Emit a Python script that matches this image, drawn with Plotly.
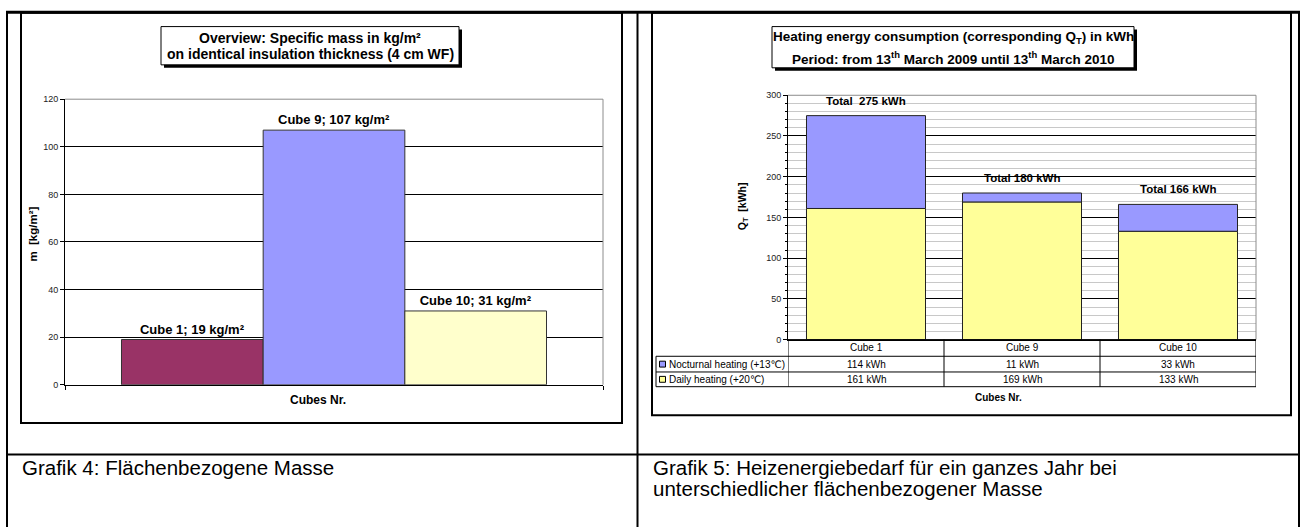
import plotly.graph_objects as go

# ---------------- data ----------------
mass_cubes = ["Cube 1", "Cube 9", "Cube 10"]
mass_values = [19, 107, 31]
mass_colors = ["#993366", "#9999FF", "#FFFFCC"]

heat_cubes = ["Cube 1", "Cube 9", "Cube 10"]
daily_heating = [161, 169, 133]
nocturnal_heating = [114, 11, 33]
daily_name = "Daily heating (+20\u2103)"
nocturnal_name = "Nocturnal heating (+13\u2103)"
daily_color = "#FFFF99"
nocturnal_color = "#9999FF"

caption_left = "Grafik 4: Flächenbezogene Masse"
caption_right = ["Grafik 5: Heizenergiebedarf für ein ganzes Jahr bei",
                 "unterschiedlicher flächenbezogener Masse"]

# ---------------- layout helpers ----------------
W, H = 1310, 532
FONT = "Liberation Sans, Arial, DejaVu Sans, sans-serif"


def px(x):
    return x / W


def py(y):
    return 1 - y / H


fig = go.Figure()

# left chart: three bars side by side in one category
gap_left = 0.21
bw = (1 - gap_left) / len(mass_values)
for i, (name, val, col) in enumerate(zip(mass_cubes, mass_values, mass_colors)):
    fig.add_trace(go.Bar(
        x=[0], y=[val], width=[bw], offset=[-1.5 * bw + i * bw],
        marker=dict(color=col, line=dict(color="#333333", width=1)),
        text=[f"<b>{name}; {val} kg/m²</b>"], textposition="outside",
        textfont=dict(family=FONT, size=13, color="#000"),
        constraintext="none", cliponaxis=False,
        xaxis="x", yaxis="y", showlegend=False, hoverinfo="skip"))

# right chart: stacked bars (base = daily heating)
fig.add_trace(go.Bar(
    x=heat_cubes, y=daily_heating, name=daily_name,
    marker=dict(color=daily_color, line=dict(color="#222", width=1)),
    xaxis="x2", yaxis="y2", showlegend=False, hoverinfo="skip"))
fig.add_trace(go.Bar(
    x=heat_cubes, y=nocturnal_heating, base=daily_heating, name=nocturnal_name,
    marker=dict(color=nocturnal_color, line=dict(color="#222", width=1)),
    xaxis="x2", yaxis="y2", showlegend=False, hoverinfo="skip"))

tickfont = dict(family=FONT, size=9, color="#222")

fig.update_layout(
    width=W, height=H, margin=dict(l=0, r=0, t=0, b=0),
    paper_bgcolor="white", plot_bgcolor="white",
    barmode="overlay", bargap=0.237,
    xaxis=dict(domain=[px(65), px(603)], range=[-0.5, 0.5], anchor="y",
               showline=True, linecolor="#000", linewidth=1,
               tickvals=[-0.5, 0.5], ticks="outside", ticklen=4, tickcolor="#000",
               showticklabels=False, showgrid=False, zeroline=False, fixedrange=True),
    yaxis=dict(domain=[py(387), py(96)], range=[0, 120], anchor="x",
               tick0=0, dtick=20, ticks="outside", ticklen=4, tickcolor="#000",
               showline=True, linecolor="#000", linewidth=1,
               showgrid=True, gridcolor="#000", gridwidth=1, zeroline=False,
               tickfont=tickfont, fixedrange=True),
    xaxis2=dict(domain=[px(788), px(1256)], range=[-0.5, 2.5], anchor="y2",
                type="category", showline=True, linecolor="#000", linewidth=1,
                showticklabels=False, ticks="", showgrid=False, zeroline=False,
                fixedrange=True),
    yaxis2=dict(domain=[py(341), py(92)], range=[0, 300], anchor="x2",
                tick0=0, dtick=50, ticks="outside", ticklen=4, tickcolor="#000",
                showline=True, linecolor="#000", linewidth=1,
                showgrid=True, gridcolor="#000", gridwidth=1, zeroline=False,
                minor=dict(dtick=10, ticks="outside", ticklen=2, tickcolor="#000",
                           showgrid=True, gridcolor="#c8c8c8", gridwidth=1),
                tickfont=tickfont, fixedrange=True),
)

shapes = []


def line(x0, y0, x1, y1, color="#000", width=1, **kw):
    d = dict(type="line", xref=kw.get("xref", "paper"), yref=kw.get("yref", "paper"),
             x0=x0, y0=y0, x1=x1, y1=y1, line=dict(color=color, width=width),
             layer=kw.get("layer", "above"))
    shapes.append(d)


def rect(x0, y0, x1, y1, lc="#000", lw=1, fill=None):
    shapes.append(dict(type="rect", xref="paper", yref="paper",
                       x0=px(x0), x1=px(x1), y0=py(y0), y1=py(y1),
                       line=dict(color=lc, width=lw),
                       fillcolor=fill if fill else "rgba(0,0,0,0)", layer="above"))


# outer table
line(px(6), py(7.5), px(1300), py(7.5), width=3)
line(px(7), py(6), px(7), py(532), width=2)
line(px(637.5), py(6), px(637.5), py(532), width=2)
line(px(1299), py(6), px(1299), py(532), width=2)
line(px(7), py(458), px(1299), py(458), width=2)

# chart frames
rect(21, 8, 622, 426, lw=2)
rect(652, 8, 1291, 418, lw=2)

# plot area borders (gray)
for ax in ("", "2"):
    shapes.append(dict(type="line", xref=f"x{ax} domain", yref=f"y{ax} domain",
                       x0=0, x1=1, y0=1, y1=1, line=dict(color="#8c8c8c", width=1)))
    shapes.append(dict(type="line", xref=f"x{ax} domain", yref=f"y{ax} domain",
                       x0=1, x1=1, y0=0, y1=1, line=dict(color="#8c8c8c", width=1)))

# title boxes with shadow
rect(164, 25, 462, 64, lc="#000", lw=0, fill="#000")
rect(161, 22, 459, 61, lc="#000", lw=1, fill="#fff")
rect(775, 25, 1137, 67, lc="#000", lw=0, fill="#000")
rect(772, 22, 1134, 64, lc="#000", lw=1, fill="#fff")

# data table under right chart
row_y = [341, 358, 374, 389]
line(-0.5, py(row_y[0]), 2.5, py(row_y[0]), xref="x2")
for yy in row_y[1:]:
    line(px(656), py(yy), px(1256), py(yy))
line(px(656), py(row_y[1]), px(656), py(row_y[3]))
for k in range(len(heat_cubes) + 1):
    line(k - 0.5, py(row_y[0]), k - 0.5, py(row_y[3]), xref="x2")

# legend keys
for r, col in ((1, nocturnal_color), (2, daily_color)):
    yc = (row_y[r] + row_y[r + 1]) / 2
    rect(659.5, yc - 3, 665.5, yc + 3, lc="#000", lw=1, fill=col)

fig.update_layout(shapes=shapes)

ann = []


def text(x, y, s, size=10, bold=False, xanchor="center", angle=0, xref="paper", yref="paper", yshift=0):
    ann.append(dict(x=x, y=y, xref=xref, yref=yref, text=f"<b>{s}</b>" if bold else s,
                    showarrow=False, xanchor=xanchor, yanchor="middle", textangle=angle,
                    yshift=yshift, font=dict(family=FONT, size=size, color="#000")))


# left chart texts
text(px(310), py(34), "Overview: Specific mass in kg/m²", size=14, bold=True)
text(px(310), py(49.5), "on identical insulation thickness (4 cm WF)", size=14, bold=True)
text(px(33), py(234), "m  [kg/m²]", size=11.5, bold=True, angle=-90)
text(px(318), py(403), "Cubes Nr.", size=12, bold=True)

# right chart texts
text(px(953), py(33), "Heating energy consumption (corresponding Q<sub>T</sub>) in kWh", size=13.5, bold=True)
text(px(953), py(54), "Period: from 13<sup>th</sup> March 2009 until 13<sup>th</sup> March 2010", size=13.5, bold=True)
text(px(743), py(205), "Q<sub>T</sub>  [kWh]", size=10.5, bold=True, angle=-90)
text(px(998), py(400), "Cubes Nr.", size=10, bold=True)

# totals above stacked bars
for i, (c, d, n) in enumerate(zip(heat_cubes, daily_heating, nocturnal_heating)):
    tot = d + n
    lbl = f"Total\u00a0 {tot} kWh" if i == 0 else f"Total {tot} kWh"
    text(c, tot, lbl, size=11.5, bold=True, xref="x2", yref="y2", yshift=15)

# table contents
for i, c in enumerate(heat_cubes):
    text(c, py((row_y[0] + row_y[1]) / 2), c, size=10, xref="x2")
    text(c, py((row_y[1] + row_y[2]) / 2), f"{nocturnal_heating[i]} kWh", size=10, xref="x2")
    text(c, py((row_y[2] + row_y[3]) / 2), f"{daily_heating[i]} kWh", size=10, xref="x2")
text(px(667), py((row_y[1] + row_y[2]) / 2), nocturnal_name, size=10, xanchor="left")
text(px(667), py((row_y[2] + row_y[3]) / 2), daily_name, size=10, xanchor="left")

# captions
text(px(20), py(471), caption_left, size=20.5, xanchor="left")
text(px(651), py(471), caption_right[0], size=20.5, xanchor="left")
text(px(651), py(493), caption_right[1], size=20.5, xanchor="left")

fig.update_layout(annotations=ann)

fig.write_html("out.html")
